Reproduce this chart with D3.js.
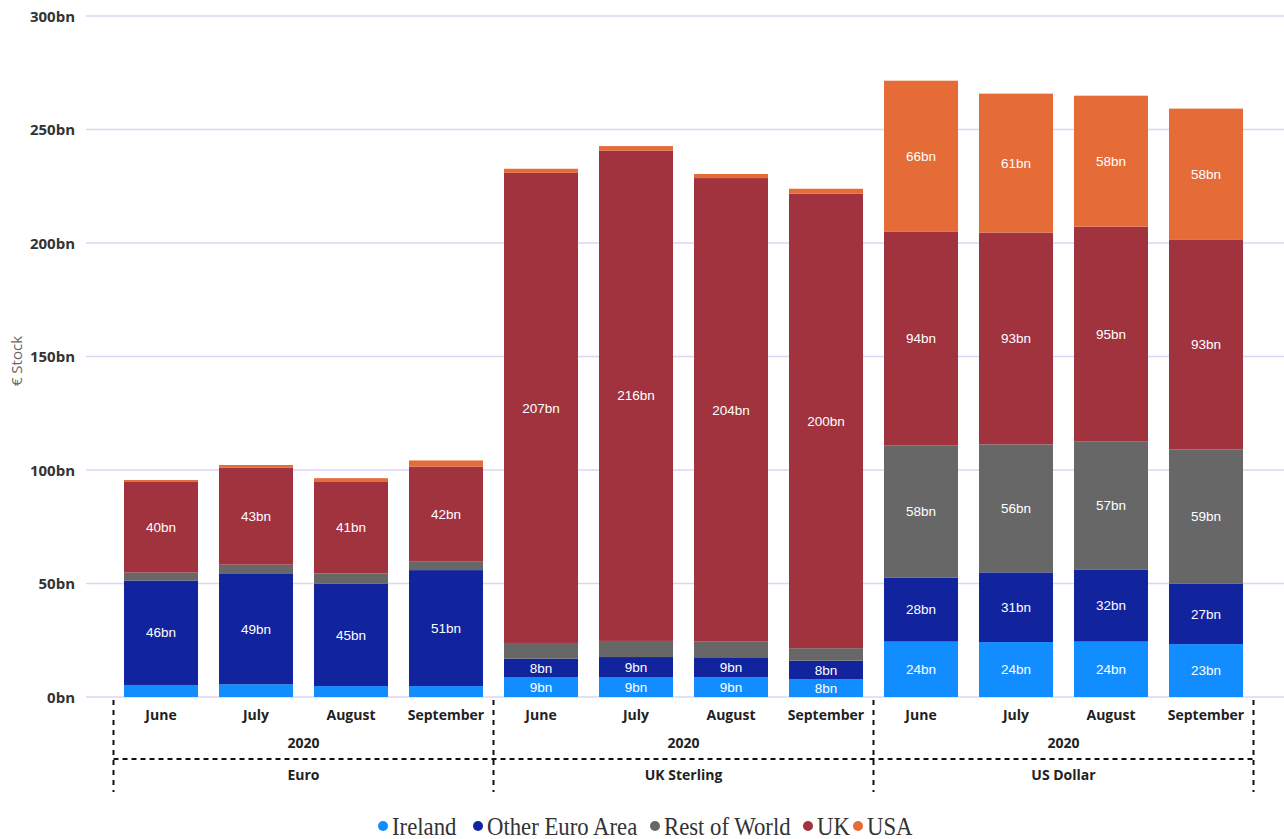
<!DOCTYPE html>
<html>
<head>
<meta charset="utf-8">
<script src="https://cdn.jsdelivr.net/npm/d3@7"></script>
<style>
  html, body { margin: 0; padding: 0; background: #fff; }
  svg { display: block; }
</style>
</head>
<body>
<svg id="chart" width="1284" height="839"></svg>
<script>
// Currency groups, months and the regions stacked in each bar
const currencies = ["Euro", "UK Sterling", "US Dollar"];
const months = ["June", "July", "August", "September"];
const year = "2020";
const regions = ["Ireland", "Other Euro Area", "Rest of World", "UK", "USA"];
const regionColors = ["#118DFF", "#12239E", "#676767", "#A1333F", "#E56B37"];

// € stock in billions, one array per region, ordered Euro (Jun–Sep), UK Sterling (Jun–Sep), US Dollar (Jun–Sep)
const ireland       = [5.3, 5.6, 4.8, 4.8,   8.8, 8.8, 8.7, 7.9,   24.4, 24.2, 24.4, 23.3];
const otherEuroArea = [46.0, 48.6, 45.2, 51.1, 8.1, 8.8, 8.8, 8.1,  28.1, 30.7, 31.6, 26.7];
const restOfWorld   = [3.5, 4.1, 4.4, 3.7,   6.9, 7.1, 6.9, 5.5,   58.4, 56.4, 56.5, 59.0];
const uk            = [40.2, 42.8, 40.6, 41.9, 207.1, 216.0, 204.2, 200.2, 94.2, 93.3, 94.7, 92.6];
const usa           = [0.6, 1.1, 1.4, 2.7,   1.8, 2.0, 1.8, 2.2,   66.4, 61.2, 57.7, 57.6];

const yTicks = [0, 50, 100, 150, 200, 250, 300];

const seriesValues = [ireland, otherEuroArea, restOfWorld, uk, usa];

// One row per bar
const rows = [];
currencies.forEach((c, ci) => months.forEach((m, mi) => {
  const i = ci * months.length + mi;
  const row = { key: c + "|" + m, currency: c, month: m };
  regions.forEach((r, ri) => { row[r] = seriesValues[ri][i]; });
  rows.push(row);
}));

const svg = d3.select("#chart");

const x = d3.scaleBand()
  .domain(rows.map(d => d.key))
  .range([113.5, 1253.5])
  .paddingInner(0.221)
  .paddingOuter(0.1105);

const y = d3.scaleLinear().domain([0, 300]).range([697, 16]);

const color = d3.scaleOrdinal().domain(regions).range(regionColors);

const labelFont = "'Open Sans', 'Noto Sans', sans-serif";

// Gridlines and y tick labels
const yAxis = d3.axisLeft(y).tickValues(yTicks).tickFormat(d => d + "bn").tickSize(0).tickPadding(0);
const yG = svg.append("g").attr("transform", "translate(75,0)").call(yAxis);
yG.select(".domain").remove();
yG.selectAll("text")
  .attr("font-family", labelFont)
  .attr("font-size", 15)
  .attr("font-weight", 700)
  .attr("fill", "#333")
  .attr("dy", "0.35em");

svg.append("g").selectAll("line")
  .data(yTicks)
  .join("line")
  .attr("x1", 86).attr("x2", 1284)
  .attr("y1", d => y(d)).attr("y2", d => y(d))
  .attr("stroke", "#DCD6F2")
  .attr("stroke-width", 1.5);

// Y axis title
svg.append("text")
  .attr("transform", `translate(22,${y(148)}) rotate(-90)`)
  .attr("text-anchor", "middle")
  .attr("font-family", labelFont)
  .attr("font-size", 15)
  .attr("fill", "#666")
  .text("€ Stock");

// Stacked bars
const stacked = d3.stack().keys(regions)(rows);

const layers = svg.append("g").selectAll("g")
  .data(stacked)
  .join("g")
  .attr("fill", d => color(d.key));

layers.selectAll("rect")
  .data(d => d)
  .join("rect")
  .attr("x", d => x(d.data.key))
  .attr("width", x.bandwidth())
  .attr("y", d => y(d[1]))
  .attr("height", d => y(d[0]) - y(d[1]));

// Value labels inside segments large enough to hold them
const labelData = [];
stacked.forEach(layer => layer.forEach(d => {
  const v = d[1] - d[0];
  if (v >= 7.5) labelData.push({ key: d.data.key, mid: (d[0] + d[1]) / 2, v });
}));

svg.append("g").selectAll("text")
  .data(labelData)
  .join("text")
  .attr("x", d => x(d.key) + x.bandwidth() / 2)
  .attr("y", d => y(d.mid))
  .attr("dy", "0.35em")
  .attr("text-anchor", "middle")
  .attr("font-family", "'Liberation Sans', Arial, sans-serif")
  .attr("font-size", 13.5)
  .attr("fill", "#fff")
  .text(d => Math.round(d.v) + "bn");

// Hierarchical category axis: month, year, currency
const axisG = svg.append("g");

axisG.selectAll("text.month")
  .data(rows)
  .join("text")
  .attr("class", "month")
  .attr("x", d => x(d.key) + x.bandwidth() / 2)
  .attr("y", 720)
  .attr("text-anchor", "middle")
  .attr("font-family", labelFont)
  .attr("font-size", 14)
  .attr("font-weight", 700)
  .attr("fill", "#222")
  .text(d => d.month);

const groupExtent = c => {
  const keys = rows.filter(r => r.currency === c).map(r => r.key);
  const step = x.step();
  const x0 = x(keys[0]) - (step - x.bandwidth()) / 2;
  const x1 = x(keys[keys.length - 1]) + x.bandwidth() + (step - x.bandwidth()) / 2;
  return [x0, x1];
};

axisG.selectAll("text.year")
  .data(currencies)
  .join("text")
  .attr("class", "year")
  .attr("x", c => d3.mean(groupExtent(c)))
  .attr("y", 748)
  .attr("text-anchor", "middle")
  .attr("font-family", labelFont)
  .attr("font-size", 14)
  .attr("font-weight", 700)
  .attr("fill", "#222")
  .text(year);

axisG.selectAll("text.currency")
  .data(currencies)
  .join("text")
  .attr("class", "currency")
  .attr("x", c => d3.mean(groupExtent(c)))
  .attr("y", 780)
  .attr("text-anchor", "middle")
  .attr("font-family", labelFont)
  .attr("font-size", 14)
  .attr("font-weight", 700)
  .attr("fill", "#222")
  .text(c => c);

// Dashed separators
const sepX = [groupExtent(currencies[0])[0]].concat(currencies.map(c => groupExtent(c)[1]));
axisG.selectAll("line.vsep")
  .data(sepX)
  .join("line")
  .attr("class", "vsep")
  .attr("x1", d => d).attr("x2", d => d)
  .attr("y1", 700).attr("y2", 792)
  .attr("stroke", "#111")
  .attr("stroke-width", 2)
  .attr("stroke-dasharray", "5,5");

axisG.append("line")
  .attr("x1", sepX[0]).attr("x2", sepX[sepX.length - 1])
  .attr("y1", 759).attr("y2", 759)
  .attr("stroke", "#111")
  .attr("stroke-width", 2)
  .attr("stroke-dasharray", "5,4");

// Legend
const legendX = [383, 478, 655, 808, 858];
const legend = svg.append("g").selectAll("g")
  .data(regions)
  .join("g")
  .attr("transform", (d, i) => `translate(${legendX[i]},826)`);

legend.append("circle")
  .attr("r", 5)
  .attr("fill", d => color(d));

legend.append("text")
  .attr("transform", "translate(9,0) scale(0.91,1)")
  .attr("dy", "0.35em")
  .attr("font-family", "'Liberation Serif', 'DejaVu Serif', serif")
  .attr("font-size", 25)
  .attr("fill", "#333")
  .text(d => d);
</script>
</body>
</html>
